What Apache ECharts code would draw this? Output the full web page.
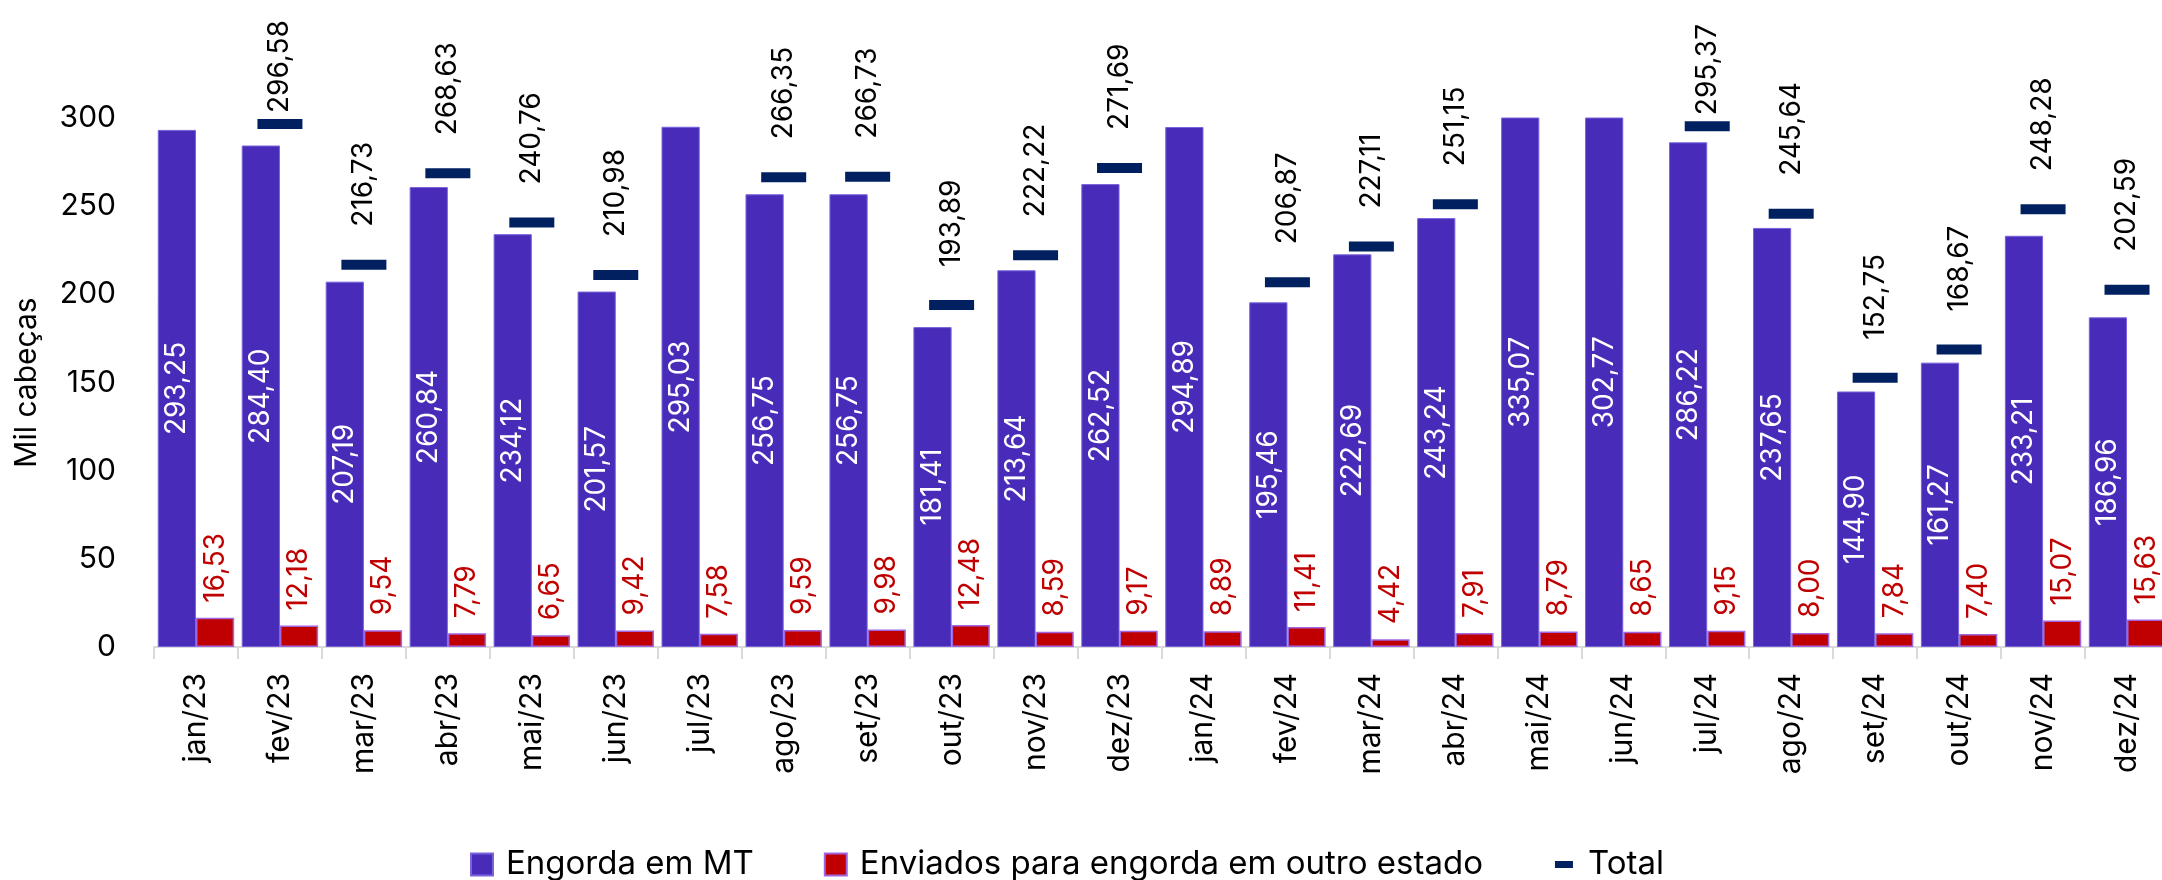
<!DOCTYPE html>
<html>
<head>
<meta charset="utf-8">
<script src="https://cdn.jsdelivr.net/npm/echarts@6/dist/echarts.min.js"></script>
<style>
html,body{margin:0;padding:0;background:#ffffff;}
#chart{width:2162px;height:880px;}
</style>
</head>
<body>
<div id="chart"></div>
<script>
const categories = ['jan/23','fev/23','mar/23','abr/23','mai/23','jun/23','jul/23','ago/23','set/23','out/23','nov/23','dez/23',
                    'jan/24','fev/24','mar/24','abr/24','mai/24','jun/24','jul/24','ago/24','set/24','out/24','nov/24','dez/24'];
const engordaMT = [293.25,284.40,207.19,260.84,234.12,201.57,295.03,256.75,256.75,181.41,213.64,262.52,
                   294.89,195.46,222.69,243.24,335.07,302.77,286.22,237.65,144.90,161.27,233.21,186.96];
const enviadosOutroEstado = [16.53,12.18,9.54,7.79,6.65,9.42,7.58,9.59,9.98,12.48,8.59,9.17,
                             8.89,11.41,4.42,7.91,8.79,8.65,9.15,8.00,7.84,7.40,15.07,15.63];
// Totals above the 300 axis limit are not visible in the reference
const totals = [null,296.58,216.73,268.63,240.76,210.98,null,266.35,266.73,193.89,222.22,271.69,
                null,206.87,227.11,251.15,null,null,295.37,245.64,152.75,168.67,248.28,202.59];
const yTicks = {min: 0, max: 300, interval: 50};

const FONT = 'Inter';
const fmt = v => Number(v).toFixed(2).replace('.', ',');

const chart = echarts.init(document.getElementById('chart'), null, {renderer: 'canvas'});
chart.setOption({
  animation: false,
  backgroundColor: '#ffffff',
  textStyle: {fontFamily: FONT},
  grid: {left: 154, right: -7, top: 118, bottom: 233, containLabel: false, outerBoundsMode: 'none'},
  legend: {
    left: 465, top: 843,
    itemWidth: 22, itemHeight: 22, itemGap: 70,
    textStyle: {fontSize: 33, color: '#000', fontFamily: FONT, padding: [0, 0, 0, 8]},
    data: [
      {name: 'Engorda em MT', icon: 'rect'},
      {name: 'Enviados para engorda em outro estado', icon: 'rect'},
      {name: 'Total', icon: 'path://M0,0M22,22M2,7.5h18v7h-18z'}
    ]
  },
  xAxis: {
    type: 'category',
    data: categories,
    axisLine: {show: true, lineStyle: {color: '#d9d9d9', width: 2}},
    axisTick: {show: true, length: 12, lineStyle: {color: '#d9d9d9', width: 2}},
    axisLabel: {interval: 0, rotate: 90, fontSize: 30, color: '#000', margin: 26, fontFamily: FONT},
    splitLine: {show: false}
  },
  yAxis: {
    type: 'value',
    min: yTicks.min, max: yTicks.max, interval: yTicks.interval,
    axisLine: {show: false},
    axisTick: {show: false},
    splitLine: {show: false},
    axisLabel: {fontSize: 30, color: '#000', margin: 38, fontFamily: FONT},
    name: 'Mil cabeças',
    nameLocation: 'middle',
    nameGap: 112,
    nameTextStyle: {fontSize: 30, color: '#000', fontFamily: FONT}
  },
  series: [
    {
      name: 'Engorda em MT',
      type: 'bar',
      data: engordaMT,
      barGap: '0%',
      barCategoryGap: '9%',
      clip: true,
      itemStyle: {color: '#482cb9', borderColor: '#7a62dc', borderWidth: 1},
      label: {
        show: true, position: 'inside', rotate: 90,
        color: '#ffffff', fontSize: 28, fontFamily: FONT,
        formatter: p => fmt(p.value)
      }
    },
    {
      name: 'Enviados para engorda em outro estado',
      type: 'bar',
      data: enviadosOutroEstado,
      clip: true,
      itemStyle: {color: '#c00000', borderColor: '#a066e0', borderWidth: 1.5},
      label: {
        show: true, position: 'top', rotate: 90, align: 'left', verticalAlign: 'middle',
        distance: 15, color: '#c00000', fontSize: 28, fontFamily: FONT,
        formatter: p => fmt(p.value)
      }
    },
    {
      name: 'Total',
      type: 'scatter',
      data: totals.map(v => v === null ? '-' : {value: v, label: {distance: v > 285 ? 6 : 33}}),
      symbol: 'rect',
      symbolSize: [45, 10],
      clip: true,
      z: 5,
      itemStyle: {color: '#002060', opacity: 1},
      label: {
        show: true, position: 'top', rotate: 90, align: 'left', verticalAlign: 'middle',
        distance: 33, color: '#000', fontSize: 28, fontFamily: FONT,
        formatter: p => fmt(p.value)
      }
    }
  ]
});
</script>
</body>
</html>
